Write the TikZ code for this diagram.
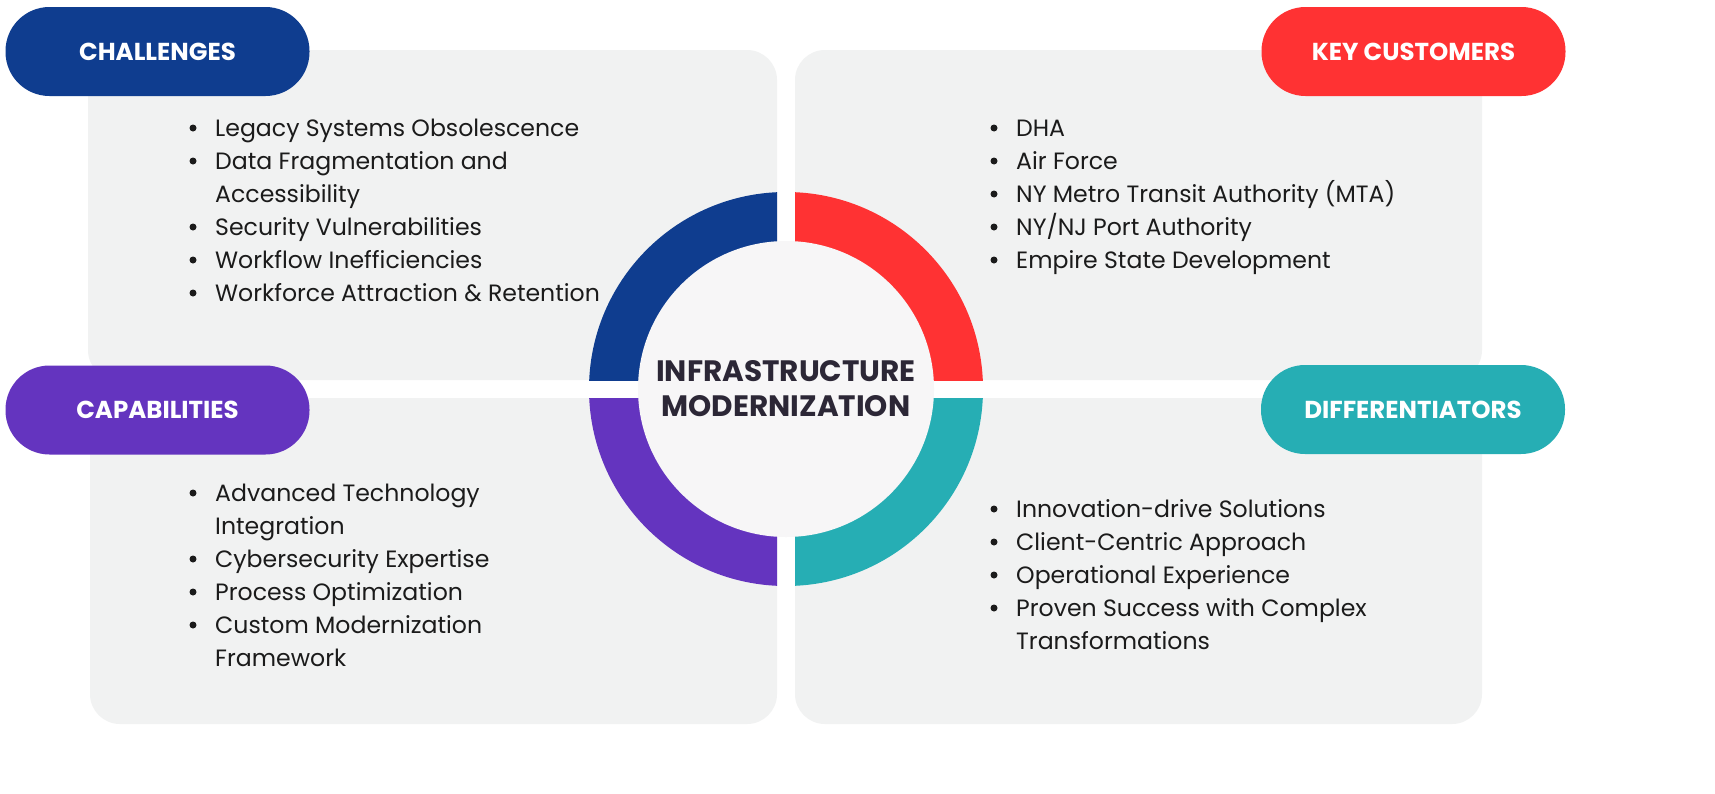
\documentclass[tikz,border=0pt]{standalone}
\usepackage{fontspec}
\setmainfont{Poppins}
\definecolor{cblue}{HTML}{0F3D8F}
\definecolor{cred}{HTML}{FF3233}
\definecolor{cpurple}{HTML}{6434BF}
\definecolor{cteal}{HTML}{26AEB4}
\definecolor{panelgray}{HTML}{F1F2F2}
\definecolor{innerfill}{HTML}{F7F6F7}
\definecolor{ctext}{HTML}{1B1B1B}
\definecolor{ctitle}{HTML}{2C2736}
\tikzset{
  panelbox/.style={fill=panelgray, rounded corners=30pt},
  pill/.style={rectangle, rounded corners=44pt, minimum width=304pt, minimum height=89pt, inner sep=0pt,
     text=white, font=\fontsize{24.5}{28}\selectfont\bfseries},
  itemtext/.style={anchor=base west, inner sep=0pt, text=ctext, font=\fontsize{23.6}{28}\selectfont},
  bul/.style={circle, fill=ctext, inner sep=0pt, minimum size=7pt},
}
\newcommand\itm[4]{%
  \node[bul] (#1b) at (#2-22,#3-8) {};
  \node[itemtext] (#1) at (#2,#3) {#4};}
\newcommand\cnt[4]{\node[itemtext] (#1) at (#2,#3) {#4};}
\begin{document}
\begin{tikzpicture}[x=1pt,y=-1pt]
\useasboundingbox[fill=white] (0,0) rectangle (1715,793);
% panels
\fill[panelbox] (88,50) rectangle (777,380);
\fill[panelbox] (795,50) rectangle (1482,380);
\fill[panelbox] (90,398) rectangle (777,724);
\fill[panelbox] (795,398) rectangle (1482,724);
% ring
\coordinate (ctr) at (786,389);
\begin{scope}
  \clip (0,0) rectangle (777,380);
  \fill[cblue] (ctr) circle[radius=197pt];
\end{scope}
\begin{scope}
  \clip (795,0) rectangle (1715,380);
  \fill[cred] (ctr) circle[radius=197pt];
\end{scope}
\begin{scope}
  \clip (0,398) rectangle (777,793);
  \fill[cpurple] (ctr) circle[radius=197pt];
\end{scope}
\begin{scope}
  \clip (795,398) rectangle (1715,793);
  \fill[cteal] (ctr) circle[radius=197pt];
\end{scope}
\fill[innerfill] (ctr) circle[radius=148pt];
\node[align=center, text=ctitle, font=\fontsize{29.5}{35}\selectfont\bfseries] (title) at (786,389) {INFRASTRUCTURE\\MODERNIZATION};
% pills
\node[pill, fill=cblue] (chal) at (157.5,51.5) {CHALLENGES};
\node[pill, fill=cred] (keyc) at (1413.5,51.5) {KEY CUSTOMERS};
\node[pill, fill=cpurple] (capa) at (157.5,410) {CAPABILITIES};
\node[pill, fill=cteal] (diff) at (1413,409.5) {DIFFERENTIATORS};
% challenges
\itm{ch1}{215}{136}{Legacy Systems Obsolescence}
\itm{ch2}{215}{169}{Data Fragmentation and}
\cnt{ch2b}{215}{202}{Accessibility}
\itm{ch3}{215}{235}{Security Vulnerabilities}
\itm{ch4}{215}{268}{Workflow Inefficiencies}
\itm{ch5}{215}{301}{Workforce Attraction \& Retention}
% key customers
\itm{kc1}{1016}{136}{DHA}
\itm{kc2}{1016}{169}{Air Force}
\itm{kc3}{1016}{202}{NY Metro Transit Authority (MTA)}
\itm{kc4}{1016}{235}{NY/NJ Port Authority}
\itm{kc5}{1016}{268}{Empire State Development}
% capabilities
\itm{ca1}{215}{501}{Advanced Technology}
\cnt{ca1b}{215}{534}{Integration}
\itm{ca2}{215}{567}{Cybersecurity Expertise}
\itm{ca3}{215}{600}{Process Optimization}
\itm{ca4}{215}{633}{Custom Modernization}
\cnt{ca4b}{215}{666}{Framework}
% differentiators
\itm{di1}{1016}{517}{Innovation-drive Solutions}
\itm{di2}{1016}{550}{Client-Centric Approach}
\itm{di3}{1016}{583}{Operational Experience}
\itm{di4}{1016}{616}{Proven Success with Complex}
\cnt{di4b}{1016}{649}{Transformations}
\end{tikzpicture}
\end{document}
